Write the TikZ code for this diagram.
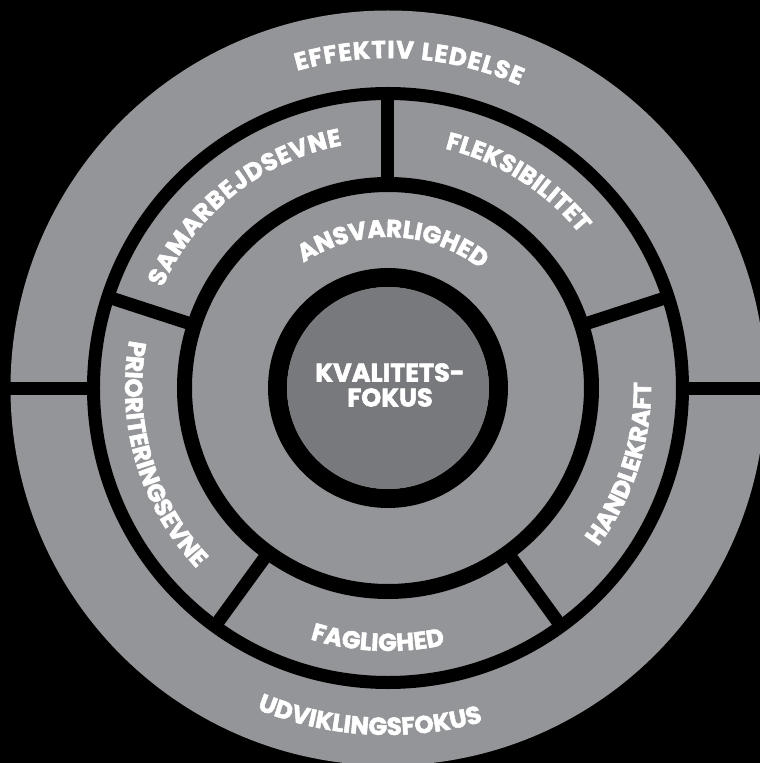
\documentclass[tikz,border=0pt]{standalone}
\usepackage{fontspec}
\newfontfamily\heavyfam{Poppins}[BoldFeatures={FakeBold=2.2}]
\usetikzlibrary{decorations.text}
\definecolor{ringgray}{RGB}{147,149,152}
\definecolor{coregray}{RGB}{120,121,124}
\newcommand\lblfont{\heavyfam\bfseries\fontsize{24.5pt}{25pt}\selectfont}
\newcommand\corefont{\heavyfam\bfseries\fontsize{25.5pt}{25pt}\selectfont}
\begin{document}
\begin{tikzpicture}[
  arclabel/.style={decorate, decoration={text along path, text color=white,
      text align={fit to path}, text={|\lblfont|#1}}},
  divider/.style={draw=black, line width=13pt},
  centertext/.style={text=white, align=center, font=\corefont}
]
% frame
\useasboundingbox (-388pt,-375pt) rectangle (372pt,388pt);
\clip (-388pt,-375pt) rectangle (372pt,388pt);
\fill[black] (-388pt,-375pt) rectangle (372pt,388pt);
% rings
\fill[ringgray] (0,0) circle[radius=377.5pt];
\draw[black, line width=13pt] (0,0) circle[radius=294.5pt];
\draw[black, line width=15pt] (0,0) circle[radius=203.5pt];
\draw[black, line width=19pt] (0,0) circle[radius=110.5pt];
\fill[coregray] (0,0) circle[radius=101pt];
% horizontal split of the outer ring
\coordinate (hl1) at (-392pt,0pt);
\coordinate (hl2) at (-290pt,0pt);
\coordinate (hr1) at (290pt,0pt);
\coordinate (hr2) at (392pt,0pt);
\draw[divider] (hl1) -- (hl2);
\draw[divider] (hr1) -- (hr2);
% middle ring dividers
\foreach \a in {18,90,162,234,306}{
  \coordinate (di\a) at (\a:200pt);
  \coordinate (do\a) at (\a:292pt);
  \draw[divider] (di\a) -- (do\a);
}
% centre
\node[centertext] (core) at (2pt,3pt) {KVALITETS-\\FOKUS};
% arc labels
\path[arclabel={EFFEKTIV LEDELSE}] (106:330pt) arc[start angle=106, end angle=66.5, radius=330pt];
\path[arclabel={UDVIKLINGSFOKUS}] (247.8:347pt) arc[start angle=247.8, end angle=285.6, radius=347pt];
\path[arclabel={SAMARBEJDSEVNE}] (156:247pt) arc[start angle=156, end angle=100.7, radius=247pt];
\path[arclabel={FLEKSIBILITET}] (76.6:246pt) arc[start angle=76.6, end angle=38.9, radius=246pt];
\path[arclabel={ANSVARLIGHED}] (124:151pt) arc[start angle=124, end angle=53.4, radius=151pt];
\path[arclabel={FAGLIGHED}] (252.8:263pt) arc[start angle=252.8, end angle=280.8, radius=263pt];
\path[arclabel={PRIORITERINGSEVNE}] (169.5:263pt) arc[start angle=169.5, end angle=223.3, radius=263pt];
\path[arclabel={HANDLEKRAFT}] (322.9:263pt) arc[start angle=322.9, end angle=361.1, radius=263pt];
\end{tikzpicture}
\end{document}
